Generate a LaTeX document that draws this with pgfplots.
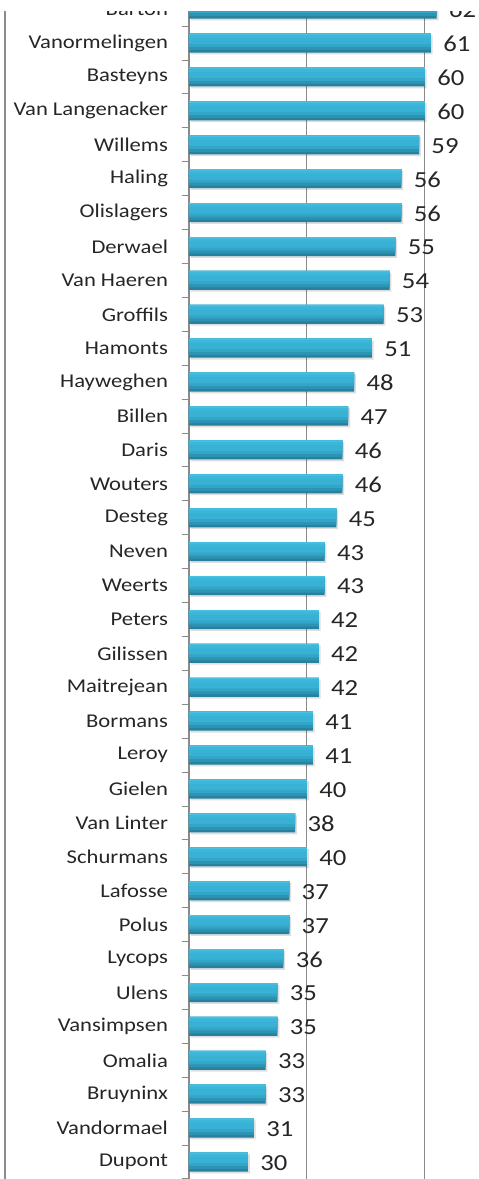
\documentclass[border=0pt]{standalone}
\usepackage{pgfplots}
\usepackage{pgfplotstable}
\pgfplotsset{compat=1.18}
\usepackage{fontspec}
\setmainfont{Carlito}[FakeStretch=1.16]
\definecolor{bA}{HTML}{27819E}
\definecolor{bB}{HTML}{2C93B2}
\definecolor{bC}{HTML}{33A6C7}
\definecolor{bD}{HTML}{38B1D4}
\definecolor{bE}{HTML}{3BB7DA}
\definecolor{bF}{HTML}{48C0E0}
\definecolor{gridc}{HTML}{8A8A8A}
\definecolor{txt}{HTML}{262626}
\pgfplotstableread{
i v
0 30
1 31
2 33
3 33
4 35
5 35
6 36
7 37
8 37
9 40
10 38
11 40
12 41
13 41
14 42
15 42
16 42
17 43
18 43
19 45
20 46
21 46
22 47
23 48
24 51
25 53
26 54
27 55
28 56
29 56
30 59
31 60
32 60
33 61
34 62
}\scores
\begin{document}
\begin{tikzpicture}
\path[use as bounding box] (-94.5pt,0pt) rectangle (144.5pt,589.5pt);
\clip (-94.5pt,0pt) rectangle (144.5pt,583.5pt);
\draw[color={rgb,255:red,140;green,140;blue,140}, line width=1pt] (-92pt,584pt) -- (-92pt,-2pt);
\begin{axis}[
  at={(0pt,0pt)}, anchor=south west,
  scale only axis, width=144.5pt, height=589.5pt,
  xmin=20, xmax=69, ymin=-0.5, ymax=34.27,
  axis y line*=left, axis x line*=bottom,
  x axis line style={draw=none},
  y axis line style={draw=gridc, line width=0.8pt},
  xtick={40,60}, xticklabels={}, xtick style={draw=none},
  xmajorgrids, grid style={draw=gridc, line width=0.5pt},
  ytick={0,...,34},
  yticklabels={Dupont,Vandormael,Bruyninx,Omalia,Vansimpsen,Ulens,Lycops,Polus,Lafosse,Schurmans,Van Linter,Gielen,Leroy,Bormans,Maitrejean,Gilissen,Peters,Weerts,Neven,Desteg,Wouters,Daris,Billen,Hayweghen,Hamonts,Groffils,Van Haeren,Derwael,Olislagers,Haling,Willems,Van Langenacker,Basteyns,Vanormelingen,Barton},
  minor ytick={-0.5,0.5,...,34.5},
  tick align=outside, major tick length=0pt, minor tick length=3.5pt,
  minor y tick style={draw=gridc, line width=0.5pt},
  yticklabel style={font=\fontsize{9.75}{11}\selectfont, text=txt, xshift=-7pt},
  /pgf/number format/assume math mode=true,
  clip=true,
  every axis plot/.append style={xbar, draw=none},
]
\addplot[fill=black, fill opacity=0.13, bar width=9.5pt, bar shift=-0.9pt, xshift=0.9pt]
  table[x=v, y=i] {\scores};
\addplot[fill=bA, bar width=9.5pt, bar shift=0pt,
  point meta=x, nodes near coords,
  nodes near coords style={font=\fontsize{11.5}{13}\selectfont, text=txt, anchor=west, xshift=2.7pt, yshift=-0.5pt}]
  table[x=v, y=i] {\scores};
\addplot[fill=bB, bar width=8.25pt, bar shift=0.625pt] table[x=v, y=i] {\scores};
\addplot[fill=bC, bar width=6.75pt, bar shift=1.375pt] table[x=v, y=i] {\scores};
\addplot[fill=bD, bar width=5.25pt, bar shift=2.125pt] table[x=v, y=i] {\scores};
\addplot[fill=bE, bar width=2.25pt, bar shift=3.625pt] table[x=v, y=i] {\scores};
\addplot[fill=bF, bar width=0.75pt, bar shift=4.375pt] table[x=v, y=i] {\scores};
\end{axis}
\end{tikzpicture}
\end{document}
